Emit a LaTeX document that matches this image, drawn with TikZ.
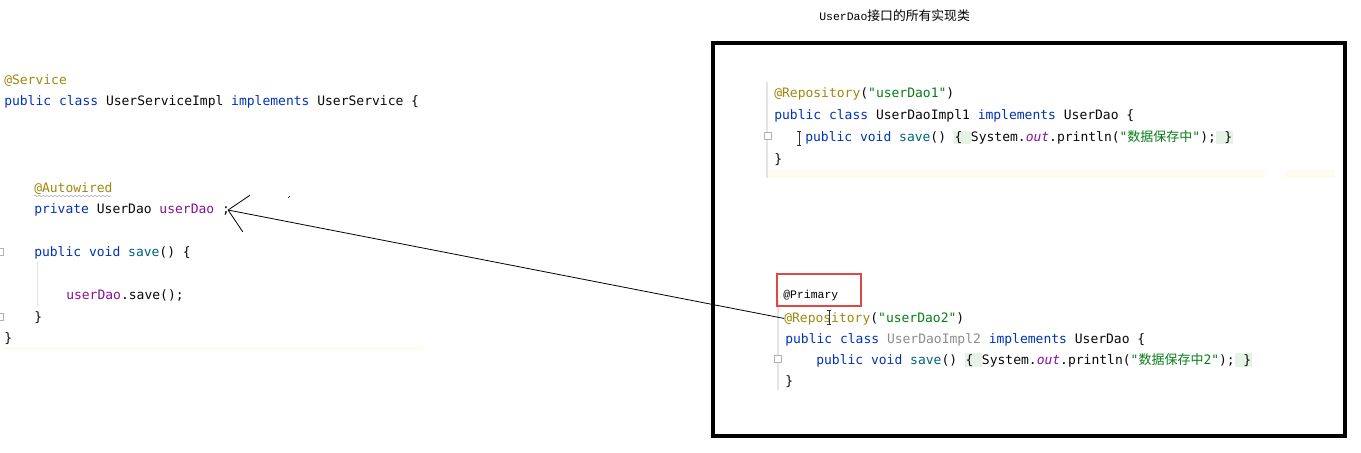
\documentclass[tikz,border=0pt]{standalone}
\usepackage{fontspec}
\setmonofont{DejaVu Sans Mono}
\newfontfamily\cjk{Noto Sans CJK SC}
\newfontfamily\simfont{Liberation Mono}
\usetikzlibrary{arrows.meta}
\usetikzlibrary{decorations.pathmorphing}
\definecolor{annot}{HTML}{9E880D}
\definecolor{kwblue}{HTML}{0033B3}
\definecolor{fldpurple}{HTML}{871094}
\definecolor{mthteal}{HTML}{00627A}
\definecolor{strgreen}{HTML}{067D17}
\definecolor{plain}{HTML}{080808}
\definecolor{unused}{HTML}{8C8C8C}
\definecolor{hlgreen}{HTML}{E6F2E6}
\definecolor{gutter}{HTML}{E4E4E4}
\definecolor{caret}{HTML}{FEFCF0}
\definecolor{redbox}{HTML}{E04848}
\newcommand\an[1]{\textcolor{annot}{#1}}
\newcommand\kw[1]{\textcolor{kwblue}{#1}}
\newcommand\fld[1]{\textcolor{fldpurple}{#1}}
\newcommand\mth[1]{\textcolor{mthteal}{#1}}
\newcommand\str[1]{\textcolor{strgreen}{#1}}
\newcommand\hlbr[1]{{\setlength\fboxsep{0.5pt}\colorbox{hlgreen}{#1}}}
\tikzset{
  code/.style={anchor=base west, inner sep=0pt, text=plain,
    font=\ttfamily\fontsize{9.75}{12}\selectfont},
  small/.style={anchor=base west, inner sep=0pt, text=black,
    font=\simfont\fontsize{8.6}{10}\selectfont},
  arr/.style={-{Straight Barb[length=14pt,width=28pt]}, line width=0.6pt},
  ibeam/.style={line width=0.7pt, draw=black!80},
  fold/.style={draw=black!30, fill=white, line width=0.4pt}
}
\begin{document}
\begin{tikzpicture}[x=0.75pt,y=-0.75pt]
	\useasboundingbox (0,0) rectangle (1361,453);
	\node[small] (title) at (819,21) {UserDao{\cjk\fontsize{9.6}{12}\selectfont 接口的所有实现类}};

	\fill[caret] (0,347) rectangle (423,350);
	\fill[caret] (767,170) rectangle (1265,178);
	\fill[caret] (1285,170) rectangle (1335,178);
	\draw[gutter, line width=1pt] (767,82) -- (767,178);
	\draw[gutter, line width=1pt] (778,300) -- (778,390);
	\draw[gutter, line width=0.6pt] (37,262) -- (37,306);

	\node[code] (svc) at (4,84.5) {\an{@Service}};
	\node[code] (cls) at (4,106) {\kw{public class} UserServiceImpl \kw{implements} UserService \{};
	\node[code] (auto) at (34,192) {\an{@Autowired}};
	\draw[black!35, decorate, decoration={snake, amplitude=0.6pt, segment length=3pt}] (34,196) -- (111,196);
	\node[code] (priv) at (34,213.5) {\kw{private} UserDao \fld{userDao} ;};
	\node[code] (save) at (34,256) {\kw{public void} \mth{save}() \{};
	\node[code] (call) at (66,299) {\fld{userDao}.save();};
	\node[code] (end1) at (34,321) {\}};
	\node[code] (end2) at (4,342) {\}};
	\draw[fold] (-4,248) rectangle (3,255);
	\draw[fold] (-4,313) rectangle (3,320);

	\draw[line width=3pt] (713,43) rectangle (1345,436);

	\node[code] (repo1) at (774,98) {\an{@Repository}(\str{"userDao1"})};
	\node[code] (impl1) at (774,120) {\kw{public class} UserDaoImpl1 \kw{implements} UserDao \{};
	\node[code] (save1) at (805,141.5) {\kw{public void} \mth{save}() \hlbr{\{ }System.\fld{\textit{out}}.println(\str{"{\cjk 数据保存中}"});\hlbr{ \}}};
	\node[code] (end3) at (774,163) {\}};
	\draw[fold] (764,132) rectangle (771,139);
	\draw[ibeam] (799,131) -- (799,145) (797,131) -- (801,131) (797,145) -- (801,145);

	\draw[redbox, line width=0.8pt] (777,274) rectangle (861,306);
	\node[small] (prim) at (783,298) {@Primary};
	\node[code] (repo2) at (784,322) {\an{@Repository}(\str{"userDao2"})};
	\node[code] (impl2) at (785,343) {\kw{public class} \textcolor{unused}{UserDaoImpl2} \kw{implements} UserDao \{};
	\node[code] (save2) at (816,364) {\kw{public void} \mth{save}() \hlbr{\{ }System.\fld{\textit{out}}.println(\str{"{\cjk 数据保存中}2"});\hlbr{ \}}};
	\node[code] (end4) at (785,385) {\}};
	\draw[fold] (774,355) rectangle (781,362);
	\draw[ibeam] (829,310) -- (829,324) (827,310) -- (831,310) (827,324) -- (831,324);

	\draw[arr] (repo2.west) -- ([xshift=-2pt]priv.east);
	\draw[line width=0.5pt] (288,198) -- (290,196);
\end{tikzpicture}
\end{document}
